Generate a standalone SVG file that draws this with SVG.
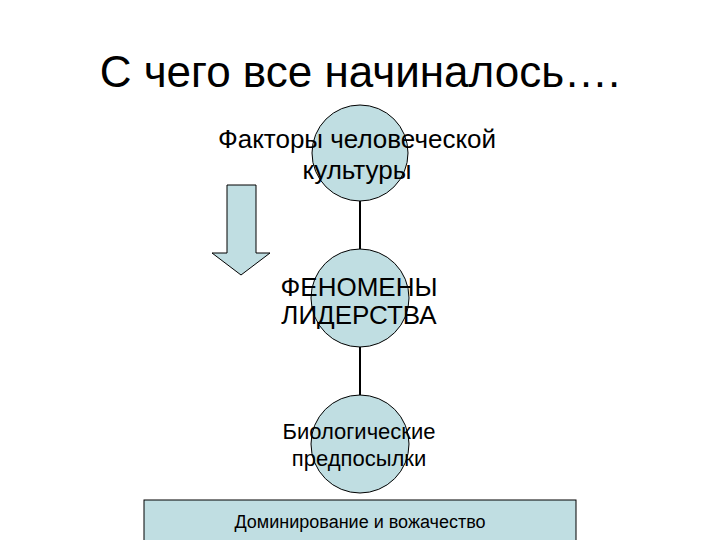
<svg xmlns="http://www.w3.org/2000/svg" width="720" height="540" viewBox="0 0 720 540">
<style>
.n{fill:#c0dee2;stroke:#000;stroke-width:1}
text{font-family:"Liberation Sans",Arial,sans-serif;fill:#000;text-anchor:middle}
</style>
<rect width="720" height="540" fill="#fff"/>
<text x="360" y="87" font-size="44">С чего все начиналось….</text>
<g id="connectors" stroke="#000" stroke-width="2">
<line x1="360" y1="201" x2="360" y2="249"/>
<line x1="360" y1="347" x2="360" y2="395"/>
</g>
<g id="arrow"><path class="n" d="M227,185 H256 V253 H270 L241,275 L212,253 H227 Z"/></g>
<g id="n1"><circle class="n" cx="360" cy="153" r="48"/>
<text x="357" y="148" font-size="26">Факторы человеческой</text>
<text x="357" y="179" font-size="26">культуры</text></g>
<g id="n2"><circle class="n" cx="360" cy="298" r="49"/>
<text x="359" y="296" font-size="26">ФЕНОМЕНЫ</text>
<text x="359" y="324" font-size="26">ЛИДЕРСТВА</text></g>
<g id="n3"><circle class="n" cx="360" cy="444" r="49"/>
<text x="359" y="439" font-size="22">Биологические</text>
<text x="359" y="466" font-size="22">предпосылки</text></g>
<g id="n4"><rect class="n" x="144" y="500" width="432" height="45"/>
<text x="360" y="528" font-size="18">Доминирование и вожачество</text></g>
</svg>
